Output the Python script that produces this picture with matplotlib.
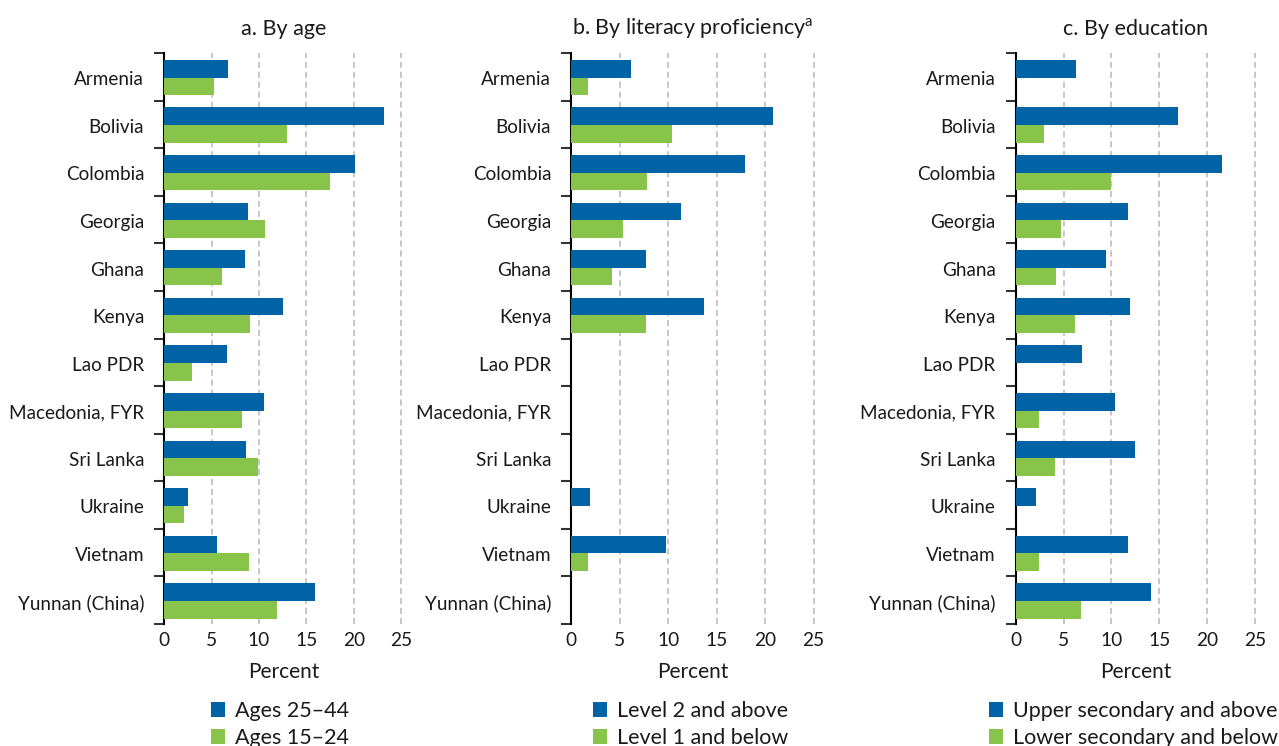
import numpy as np
import matplotlib
matplotlib.use("Agg")
import matplotlib.pyplot as plt

plt.rcParams["font.family"] = ["Lato", "DejaVu Sans"]
plt.rcParams["mathtext.fontset"] = "custom"
plt.rcParams["mathtext.rm"] = "Lato"

countries = ["Armenia", "Bolivia", "Colombia", "Georgia", "Ghana", "Kenya",
             "Lao PDR", "Macedonia, FYR", "Sri Lanka", "Ukraine", "Vietnam",
             "Yunnan (China)"]
nan = np.nan

# a. By age
age_25_44 = [6.7, 23.2, 20.1, 8.8, 8.5, 12.5, 6.6, 10.5, 8.6, 2.5, 5.6, 15.9]
age_15_24 = [5.2, 13.0, 17.5, 10.6, 6.1, 9.0, 2.9, 8.2, 9.9, 2.1, 8.9, 11.9]

# b. By literacy proficiency
lit_level2_up = [6.2, 20.8, 17.9, 11.3, 7.7, 13.7, nan, nan, nan, 1.9, 9.8, nan]
lit_level1_down = [1.7, 10.4, 7.8, 5.3, 4.2, 7.7, nan, nan, nan, nan, 1.7, nan]

# c. By education
edu_upper_sec = [6.3, 17.0, 21.6, 11.7, 9.4, 11.9, 6.9, 10.4, 12.5, 2.1, 11.7, 14.1]
edu_lower_sec = [nan, 3.0, 10.0, 4.7, 4.2, 6.2, nan, 2.4, 4.1, nan, 2.4, 6.8]

panel_titles = ["a. By age", "b. By literacy proficiency$^{\\mathrm{a}}$",
                "c. By education"]
legend_labels = [("Ages 25\u201344", "Ages 15\u201324"),
                 ("Level 2 and above", "Level 1 and below"),
                 ("Upper secondary and above", "Lower secondary and below")]
xticks = [0, 5, 10, 15, 20, 25]
xlabel = "Percent"

BLUE = "#0063a5"
GREEN = "#88c34a"

W, H = 1279, 746
fig = plt.figure(figsize=(W / 100, H / 100), dpi=100)

# axes placement in pixels: left edge, pixels per unit
layout = [(164.3, 9.47), (571.3, 9.69), (1015.7, 9.57)]
top_px, bot_px = 53, 624
xmax = 25.15
legend_x = [211, 593, 989]

data = [(age_25_44, age_15_24), (lit_level2_up, lit_level1_down),
        (edu_upper_sec, edu_lower_sec)]

y = np.arange(len(countries))
bh = 0.37

for k, ((left_px, ppu), (s1, s2), title, labels) in enumerate(
        zip(layout, data, panel_titles, legend_labels)):
    width_px = xmax * ppu
    ax = fig.add_axes([left_px / W, (H - bot_px) / H, width_px / W,
                       (bot_px - top_px) / H])
    b1 = ax.barh(y - 0.17, np.array(s1, dtype=float), height=bh, color=BLUE,
                 label=labels[0], zorder=3)
    b2 = ax.barh(y + 0.2, np.array(s2, dtype=float), height=bh, color=GREEN,
                 label=labels[1], zorder=3)
    ax.set_xlim(0, xmax)
    ax.set_ylim(len(countries) - 0.5, -0.5)

    for s in ["top", "right", "bottom"]:
        ax.spines[s].set_visible(False)
    ax.spines["left"].set_linewidth(1.5)
    ax.spines["left"].set_color("black")

    ax.set_yticks(y + 0.03)
    ax.set_yticklabels(countries, fontsize=13.6, color="#1a1a1a")
    ax.set_yticks(np.arange(-0.5, len(countries), 1.0), minor=True)
    ax.tick_params(axis="y", which="major", length=0, pad=14.5)
    ax.tick_params(axis="y", which="minor", length=7, width=1.5, color="#333333")

    ax.set_xticks(xticks)
    ax.set_xticklabels([str(t) for t in xticks], fontsize=13.8, color="#1a1a1a")
    ax.tick_params(axis="x", length=0, pad=6)
    ax.set_xlabel(xlabel, fontsize=15, color="#1a1a1a", labelpad=9)

    for t in xticks[1:]:
        ax.axvline(t, color="#b8b8b8", lw=1.1, ls=(0, (4, 2.5)), zorder=1)

    ax.set_title(title, fontsize=15.5, color="#1a1a1a", pad=13)

    leg = fig.legend(handles=[b1, b2], loc="upper left",
                     bbox_to_anchor=(legend_x[k] / W, (H - 701) / H),
                     frameon=False, fontsize=15.5, handlelength=0.65,
                     handleheight=0.65, handletextpad=0.45, labelspacing=0.33,
                     borderpad=0, borderaxespad=0)
    for txt in leg.get_texts():
        txt.set_color("#1a1a1a")

fig.savefig("out.png", dpi=100)
